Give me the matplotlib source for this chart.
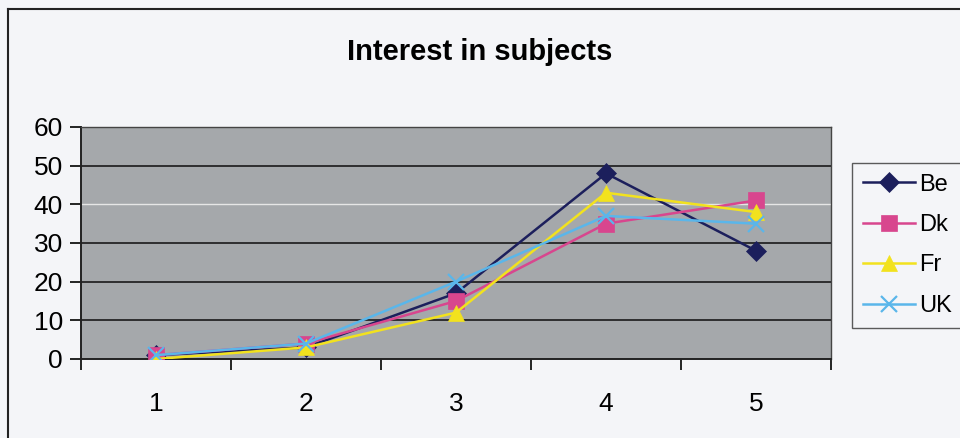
import matplotlib.pyplot as plt
from matplotlib.lines import Line2D
from matplotlib.ticker import FixedLocator, MultipleLocator

# --------------------------------------------------
# DATA
# --------------------------------------------------

categories = ["1", "2", "3", "4", "5"]

be = [1, 3, 17, 48, 28]
dk = [1, 4, 15, 35, 41]
fr = [0, 3, 12, 43, 38]
uk = [1, 4, 20, 37, 35]

series_names = ["Be", "Dk", "Fr", "UK"]

# --------------------------------------------------
# FIGURE
# --------------------------------------------------

plt.rcParams["font.family"] = ["Liberation Sans", "DejaVu Sans"]

fig = plt.figure(figsize=(9.6, 4.38), dpi=100, facecolor="#f4f5f8")
ax = fig.add_axes([81 / 960, 79 / 438, 750 / 960, 232 / 438])
ax.set_facecolor("#a5a8ab")

x = list(range(len(categories)))

styles = [
    (be, "#1c1f5c", "D", 10),
    (dk, "#d8468e", "s", 11),
    (fr, "#f2e21e", "^", 11),
    (uk, "#5ab6ea", "x", 11),
]

for name, (vals, color, marker, ms) in zip(series_names, styles):
    ax.plot(
        x,
        vals,
        color=color,
        marker=marker,
        markersize=ms,
        markeredgewidth=1.6 if marker == "x" else 0.5,
        markeredgecolor=color,
        linewidth=1.8,
        label=name,
        zorder=3,
    )

ax.set_xlim(-0.5, len(categories) - 0.5)
ax.set_ylim(0, 60)

# gridlines
for yv in [10, 20, 30, 50]:
    ax.axhline(yv, color="#1a1a1a", linewidth=1.2, zorder=1)
ax.axhline(40, color="#e6e6e6", linewidth=1.0, zorder=1)

ax.yaxis.set_major_locator(MultipleLocator(10))
ax.xaxis.set_major_locator(FixedLocator(x))
ax.xaxis.set_minor_locator(FixedLocator([i - 0.5 for i in range(len(categories) + 1)]))
ax.set_xticklabels(categories)

ax.tick_params(axis="x", which="major", length=0, pad=24, labelsize=19)
ax.tick_params(axis="x", which="minor", length=8, width=1.2, direction="out")
ax.tick_params(axis="y", length=8, width=1.2, direction="out", pad=5, labelsize=19)

for side in ["top", "right"]:
    ax.spines[side].set_color("#444444")
    ax.spines[side].set_linewidth(1.0)
for side in ["left", "bottom"]:
    ax.spines[side].set_color("#222222")
    ax.spines[side].set_linewidth(1.4)

fig.text(0.50, 0.882, "Interest in subjects", ha="center", va="center",
         fontsize=21, fontweight="bold")

leg = fig.legend(
    loc="upper left",
    bbox_to_anchor=(852 / 960, 1 - 163 / 438),
    frameon=True,
    fancybox=False,
    fontsize=17,
    handlelength=2.2,
    handletextpad=0.2,
    labelspacing=0.78,
    borderpad=0.45,
    borderaxespad=0,
)
leg.get_frame().set_edgecolor("#333333")
leg.get_frame().set_facecolor("#f4f5f8")
leg.get_frame().set_linewidth(1.0)

# outer chart border (top and left visible)
fig.add_artist(Line2D([8 / 960, 1], [1 - 9 / 438, 1 - 9 / 438],
                      transform=fig.transFigure, color="#222222", linewidth=1.5))
fig.add_artist(Line2D([8 / 960, 8 / 960], [0, 1 - 9 / 438],
                      transform=fig.transFigure, color="#222222", linewidth=1.5))

fig.savefig("out.png", dpi=100, facecolor=fig.get_facecolor())
